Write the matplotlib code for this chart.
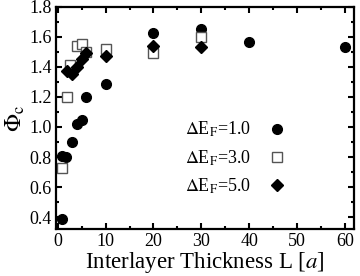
import numpy as np
import matplotlib
matplotlib.use("Agg")
import matplotlib.pyplot as plt
from matplotlib.ticker import MultipleLocator

plt.rcParams['font.family'] = ['Liberation Serif', 'DejaVu Serif']
plt.rcParams['mathtext.fontset'] = 'stix'

# dE_F = 1.0 (filled circles)
L1 = [1, 1, 1.7, 3, 4, 5, 6, 10, 20, 30, 40, 60]
phi1 = [0.39, 0.81, 0.80, 0.90, 1.02, 1.045, 1.20, 1.285, 1.625, 1.65, 1.565, 1.535]
# dE_F = 3.0 (open squares)
L3 = [1, 2, 2.6, 4, 5, 6, 10, 20, 30]
phi3 = [0.73, 1.20, 1.41, 1.54, 1.55, 1.50, 1.52, 1.49, 1.60]
# dE_F = 5.0 (filled diamonds)
L5 = [2, 3, 4, 5, 6, 10, 20, 30]
phi5 = [1.37, 1.35, 1.40, 1.45, 1.49, 1.475, 1.54, 1.535]

fig = plt.figure(figsize=(3.6, 2.76), dpi=100)
ax = fig.add_axes([0.156, 0.170, 0.827, 0.805])

ax.plot(L1, phi1, 'o', color='k', ms=7, ls='none', label=r'$\Delta$E$_\mathrm{F}$=1.0')
ax.plot(L3, phi3, 's', mfc='white', mec='#555555', mew=1.0, ms=6.5, ls='none',
        label=r'$\Delta$E$_\mathrm{F}$=3.0')
ax.plot(L5, phi5, 'D', color='k', ms=6.5, ls='none', label=r'$\Delta$E$_\mathrm{F}$=5.0')

ax.set_xlim(-0.3, 61.8)
ax.set_ylim(0.32, 1.8)
ax.xaxis.set_major_locator(MultipleLocator(10))
ax.xaxis.set_minor_locator(MultipleLocator(5))
ax.yaxis.set_major_locator(MultipleLocator(0.2))
ax.yaxis.set_minor_locator(MultipleLocator(0.1))
ax.yaxis.set_major_formatter(matplotlib.ticker.FormatStrFormatter('%.1f'))
ax.tick_params(which='both', direction='in', top=True, right=True, width=1.5, labelsize=13)
ax.tick_params(which='major', length=4, pad=3)
ax.tick_params(which='minor', length=2.5)
for s in ax.spines.values():
    s.set_linewidth(1.6)

ax.set_xlabel(r'Interlayer Thickness L [$a$]', fontsize=16.5, labelpad=0)
ax.set_ylabel(r'$\Phi_\mathrm{c}$', fontsize=17, labelpad=2)

ax.legend(loc='center left', bbox_to_anchor=(0.433, 0.32), frameon=False, markerfirst=False,
          fontsize=13, handlelength=1.0, handletextpad=0.95, labelspacing=0.5, borderpad=0,
          borderaxespad=0)

fig.savefig('out.png', dpi=100)
